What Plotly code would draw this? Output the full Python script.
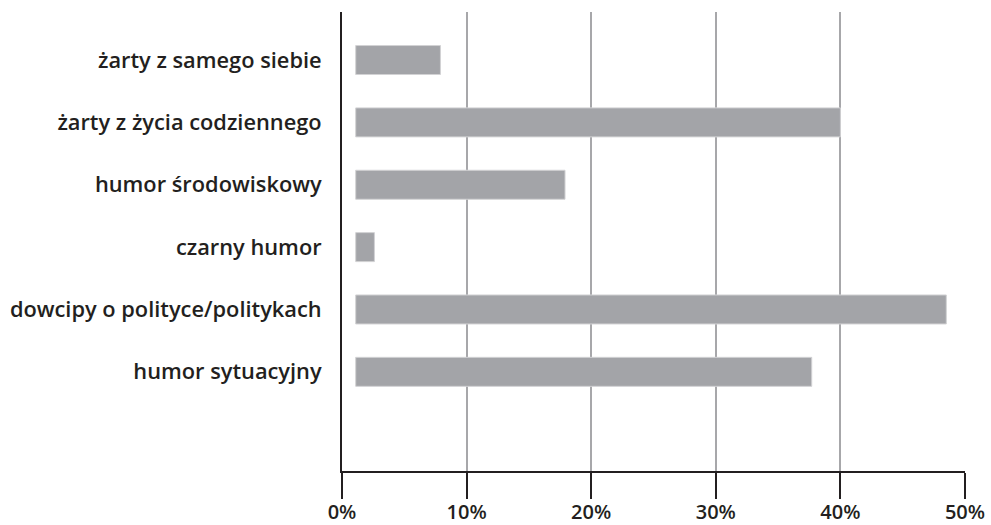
import plotly.graph_objects as go

categories = [
    "żarty z samego siebie",
    "żarty z życia codziennego",
    "humor środowiskowy",
    "czarny humor",
    "dowcipy o polityce/politykach",
    "humor sytuacyjny",
]
values = [7.9, 40.0, 17.9, 2.6, 48.5, 37.7]
tick_vals = [0, 10, 20, 30, 40, 50]
tick_text = ["0%", "10%", "20%", "30%", "40%", "50%"]

bar_base = 1.1

fig = go.Figure(
    go.Bar(
        y=categories,
        x=[v - bar_base for v in values],
        base=bar_base,
        orientation="h",
        width=0.465,
        marker=dict(color="#a3a4a8", line=dict(color="#d2d2d4", width=1)),
        hoverinfo="skip",
    )
)

yfont = dict(family="Open Sans", size=21.8, color="#231f20", weight=600)
xfont = dict(family="Open Sans", size=20, color="#231f20", weight=600)

fig.update_layout(
    width=991,
    height=525,
    margin=dict(l=342, r=26, t=12, b=54),
    paper_bgcolor="white",
    plot_bgcolor="white",
    showlegend=False,
    font=yfont,
    xaxis=dict(
        range=[0, 50],
        tickvals=tick_vals,
        ticktext=tick_text,
        showgrid=True,
        gridcolor="rgba(120,120,125,0.65)",
        gridwidth=2,
        zeroline=False,
        showline=True,
        linecolor="#231f20",
        linewidth=2,
        ticks="outside",
        ticklen=26,
        tickwidth=2,
        tickcolor="#231f20",
        layer="above traces",
        tickfont=xfont,
        ticklabelstandoff=-4,
        automargin=False,
    ),
    yaxis=dict(
        type="category",
        categoryorder="array",
        categoryarray=categories,
        range=[6.59, -0.77],
        showgrid=False,
        zeroline=False,
        showline=True,
        linecolor="#231f20",
        linewidth=2,
        ticks="",
        ticklabelstandoff=14,
        tickfont=yfont,
        automargin=False,
    ),
)

fig.write_html(
    "out.html",
    config={"displayModeBar": False},
    post_script="document.body.style.margin='0';document.body.style.overflow='hidden';",
)
